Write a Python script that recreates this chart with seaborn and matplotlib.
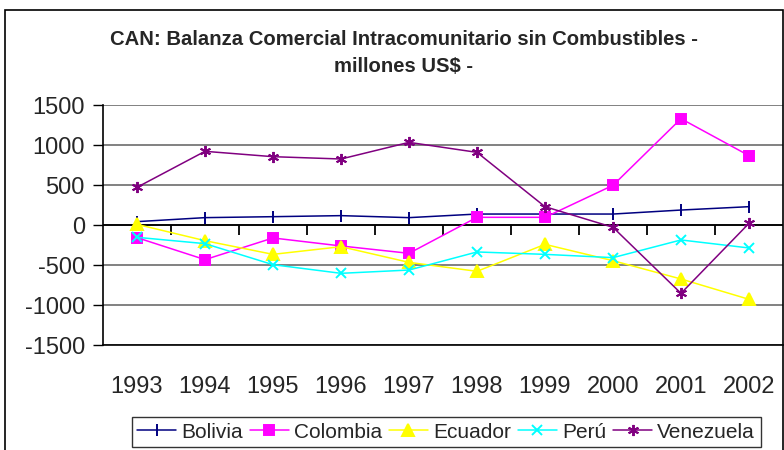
import pandas as pd
import matplotlib.pyplot as plt
import matplotlib.patches as mpatches
from matplotlib.lines import Line2D
import seaborn as sns

# values (millones US$)
years = [1993, 1994, 1995, 1996, 1997, 1998, 1999, 2000, 2001, 2002]
bolivia = [42, 92, 104, 117, 92, 137, 137, 137, 187, 229]
colombia = [-158, -433, -162, -262, -354, 96, 96, 496, 1329, 867]
ecuador = [8, -196, -367, -271, -467, -579, -242, -446, -675, -929]
peru = [-154, -233, -496, -604, -563, -337, -367, -408, -187, -287]
venezuela = [471, 921, 854, 825, 1033, 908, 229, -29, -854, 21]

countries = ['Bolivia', 'Colombia', 'Ecuador', 'Perú', 'Venezuela']
colors = ['#000080', '#FF00FF', '#FFFF00', '#00FFFF', '#800080']
markers = ['|', 's', '^', 'x', (6, 2, 0)]
marker_sizes = [9, 6.5, 8, 7, 8]

df = pd.DataFrame({'year': years, 'Bolivia': bolivia, 'Colombia': colombia,
                   'Ecuador': ecuador, 'Perú': peru, 'Venezuela': venezuela})
df_long = df.melt(id_vars='year', var_name='country', value_name='value')

sns.set_style('white')
plt.rcParams['font.family'] = ['Liberation Sans', 'DejaVu Sans']
plt.rcParams['axes.unicode_minus'] = False

fig = plt.figure(figsize=(7.84, 4.5), dpi=100)
ax = fig.add_axes([103 / 784, 1 - 345 / 450, 680 / 784, 240 / 450])

# one call per country (seaborn won't mix filled and line-art markers)
for name, c, m, ms in zip(countries, colors, markers, marker_sizes):
    sub = df_long[df_long['country'] == name]
    sns.lineplot(data=sub, x='year', y='value', color=c, marker=m,
                 markersize=ms, markeredgewidth=1.4, markeredgecolor=c,
                 markerfacecolor=c, linewidth=1.1, ax=ax, label=name,
                 legend=False)

ax.set_xlim(1992.5, 2002.5)
ax.set_ylim(-1500, 1500)
ax.set_yticks(range(-1500, 1501, 500))
ax.set_xticks(years)
ax.set_xticklabels([str(y) for y in years])
ax.set_xlabel('')
ax.set_ylabel('')
ax.yaxis.grid(True, color='#777777', linewidth=1.3)
ax.set_axisbelow(True)
ax.tick_params(axis='y', direction='out', length=7, width=1, color='black',
               left=True, labelsize=17, pad=6)
ax.tick_params(axis='x', length=0, labelsize=17, pad=22)
for side in ['top', 'right']:
    ax.spines[side].set_visible(False)
for side in ['left', 'bottom']:
    ax.spines[side].set_color('black')
    ax.spines[side].set_linewidth(1.2)

# category axis crossing at zero, tick marks between categories
bounds = [y - 0.5 for y in years[1:]]
ax.add_line(Line2D(ax.get_xlim(), [0, 0], color='black', linewidth=1.3,
                   zorder=1.8))
ax.add_line(Line2D(bounds, [0] * len(bounds), linestyle='none', marker=3,
                   markersize=7, markeredgewidth=1.3, color='black',
                   markeredgecolor='black', zorder=1.8, clip_on=False))

# title
fig.text(0.515, 1 - 53 / 450,
         'CAN: Balanza Comercial Intracomunitario sin Combustibles -\nmillones US$ -',
         ha='center', va='center', fontsize=14.6, fontweight='bold',
         linespacing=1.55)

# legend
handles = [plt.Line2D([], [], color=c, marker=m, markersize=ms, linewidth=1.1,
                      markeredgewidth=1.4, markerfacecolor=c, markeredgecolor=c)
           for c, m, ms in zip(colors, markers, marker_sizes)]
leg = fig.legend(handles, countries, loc='center', bbox_to_anchor=(0.569, 0.04),
                 ncol=5, fontsize=15, frameon=True, fancybox=False,
                 edgecolor='black', handlelength=1.85, handletextpad=0.25,
                 columnspacing=0.35, borderpad=0.28)
leg.get_frame().set_linewidth(1.0)

# chart area border
fig.patches.append(mpatches.Rectangle((5 / 784, -0.05), 778 / 784, 1 - 10 / 450 + 0.05,
                                      transform=fig.transFigure, fill=False,
                                      edgecolor='black', linewidth=1.2))

fig.savefig('out.png', dpi=100)
